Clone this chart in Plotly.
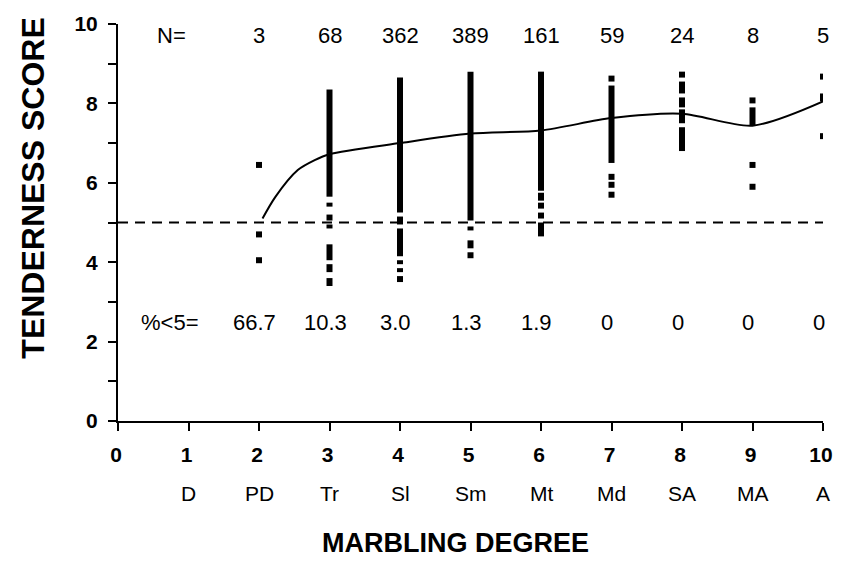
import plotly.graph_objects as go

# ---------------- data ----------------
marbling_x = [2, 3, 4, 5, 6, 7, 8, 9, 10]
n_values = ["3", "68", "362", "389", "161", "59", "24", "8", "5"]
pct_below5 = ["66.7", "10.3", "3.0", "1.3", "1.9", "0", "0", "0", "0"]

grade_x = [1, 2, 3, 4, 5, 6, 7, 8, 9, 10]
grade_labels = ["D", "PD", "Tr", "Sl", "Sm", "Mt", "Md", "SA", "MA", "A"]

# fitted tenderness curve
curve_x = [2.05, 2.23, 2.55, 2.79, 3, 4, 5, 6, 7, 8, 9, 10]
curve_y = [5.1, 5.64, 6.32, 6.57, 6.72, 7.0, 7.24, 7.32, 7.63, 7.74, 7.44, 8.05]

# observed score ranges (dense stacks of points) per marbling degree
seg_x = [3, 3, 3, 3, 3, 3, 3,
         4, 4, 4, 4, 4, 4,
         5, 5, 5, 5,
         6, 6, 6, 6, 6,
         7, 7,
         8, 8, 8, 8, 8,
         9, 9,
         10, 10, 10]
seg_lo = [5.65, 5.40, 5.05, 4.85, 4.05, 3.75, 3.40,
          5.25, 4.95, 4.15, 3.95, 3.75, 3.50,
          5.05, 4.80, 4.35, 4.10,
          5.80, 5.55, 5.35, 5.10, 4.65,
          8.55, 6.50,
          8.65, 8.25, 7.90, 7.50, 6.80,
          8.00, 7.45,
          8.60, 8.05, 7.10]
seg_hi = [8.35, 5.50, 5.20, 4.95, 4.45, 3.95, 3.60,
          8.65, 5.15, 4.85, 4.05, 3.85, 3.65,
          8.80, 4.90, 4.55, 4.25,
          8.80, 5.75, 5.50, 5.25, 5.00,
          8.70, 8.45,
          8.80, 8.55, 8.15, 7.85, 7.40,
          8.15, 7.90,
          8.75, 8.25, 7.25]

# isolated observations
pt_x = [2, 2, 2, 7, 7, 7, 9, 9]
pt_y = [6.45, 4.70, 4.05, 6.15, 5.95, 5.70, 6.45, 5.90]

ref_score = 5

# ---------------- figure ----------------
FONT = "Liberation Sans, Arial, Helvetica, sans-serif"

lx, ly = [], []
for x, lo, hi in zip(seg_x, seg_lo, seg_hi):
    lx += [x, x, None]
    ly += [lo, hi, None]

fig = go.Figure()
fig.add_trace(go.Scatter(x=lx, y=ly, mode="lines",
                         line=dict(color="black", width=6),
                         hoverinfo="skip", showlegend=False, cliponaxis=False))
fig.add_trace(go.Scatter(x=pt_x, y=pt_y, mode="markers",
                         marker=dict(symbol="square", size=6, color="black"),
                         showlegend=False, cliponaxis=False))
fig.add_trace(go.Scatter(x=curve_x, y=curve_y, mode="lines",
                         line=dict(color="black", width=2, shape="spline", smoothing=0.8),
                         showlegend=False, cliponaxis=False))
fig.add_trace(go.Scatter(x=[0, 10], y=[ref_score, ref_score], mode="lines",
                         line=dict(color="black", width=2, dash="10px,7px"),
                         showlegend=False, cliponaxis=False))

TXT = dict(size=22, family=FONT, color="black")
ann = []
ann.append(dict(x=0.76, y=9.72, text="N=", showarrow=False, xref="x", yref="y", font=TXT))
for x, t in zip(marbling_x, n_values):
    ann.append(dict(x=x, y=9.72, text=t, showarrow=False, xref="x", yref="y", font=TXT))
ann.append(dict(x=0.74, y=2.49, text="%<5=", showarrow=False, xref="x", yref="y", font=TXT))
for x, t in zip(marbling_x, pct_below5):
    ann.append(dict(x=x - 0.06, y=2.49, text=t, showarrow=False, xref="x", yref="y", font=TXT))
for x, t in zip(grade_x, grade_labels):
    ann.append(dict(x=x, y=-0.182, text=t, showarrow=False, xref="x", yref="paper",
                    yanchor="middle", font=dict(size=21, family=FONT, color="black")))
ann.append(dict(x=0.479, y=-0.307, text="<b>MARBLING DEGREE</b>", showarrow=False,
                xref="paper", yref="paper", yanchor="middle",
                font=dict(size=27, family=FONT, color="black")))
ann.append(dict(x=-0.121, y=0.587, text="<b>TENDERNESS SCORE</b>", showarrow=False,
                xref="paper", yref="paper", textangle=-90, xanchor="center", yanchor="middle",
                font=dict(size=32, family=FONT, color="black")))

AX = dict(range=[0, 10], tickvals=list(range(0, 11)),
          showgrid=False, zeroline=False, showline=True, linecolor="black", linewidth=2,
          ticks="outside", ticklen=8, tickwidth=2, tickcolor="black",
          ticklabelstandoff=6, automargin=False, ticklabeloverflow="allow",
          tickfont=dict(size=21, family=FONT, color="black", weight="bold"))

# page adds an 8px body margin, so the figure is sized/offset to compensate
fig.update_layout(
    width=828, height=553,
    margin=dict(l=110, r=13, t=16, b=140),
    paper_bgcolor="white", plot_bgcolor="white",
    annotations=ann,
    xaxis=dict(AX, ticktext=[str(i) for i in range(0, 11)], ticklabelshift=-2),
    yaxis=dict(AX, ticktext=[str(i) if i % 2 == 0 else "" for i in range(0, 11)]),
)

fig.write_html("out.html")
